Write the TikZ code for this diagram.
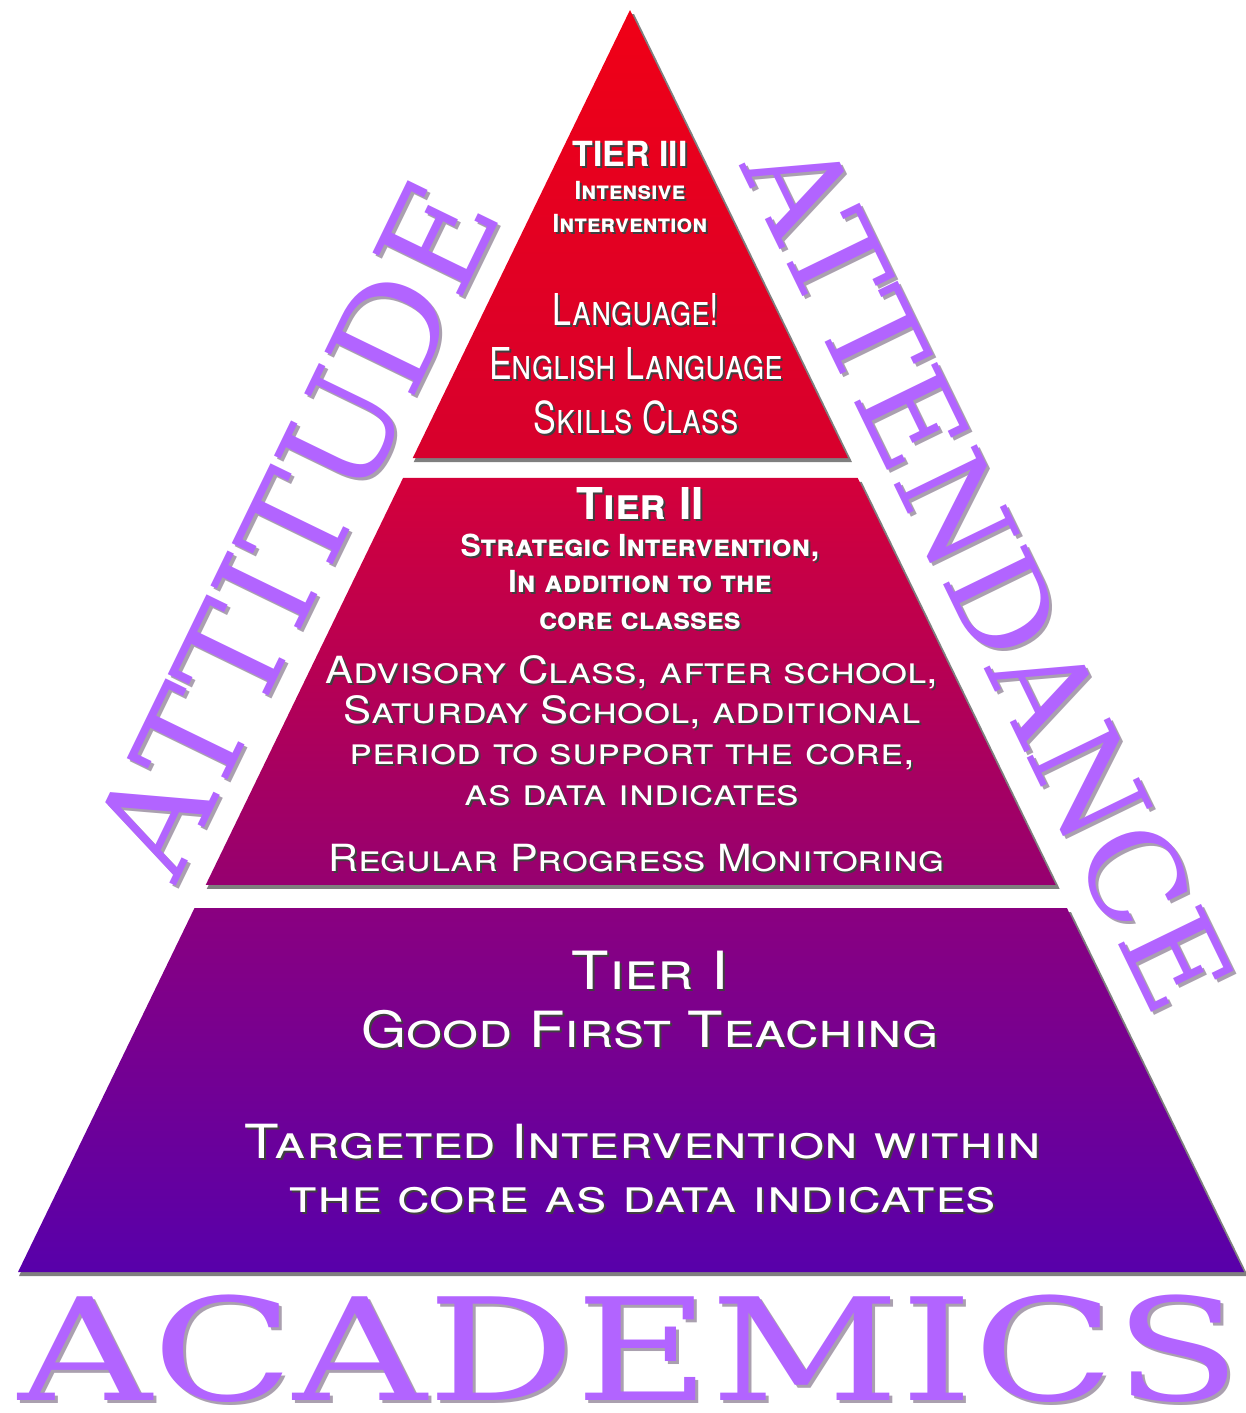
\documentclass[tikz,border=0pt]{standalone}
\usepackage{fontspec}
\usepackage{graphicx}
\usetikzlibrary{calc}
\newfontfamily\bigfont{DejaVu Serif}
\newfontfamily\tierfont{TeX Gyre Heros}
\definecolor{lilac}{RGB}{178,100,255}
\definecolor{lilacshade}{RGB}{170,160,175}
\definecolor{topthree}{RGB}{240,0,22}
\definecolor{botthree}{RGB}{215,0,45}
\definecolor{toptwo}{RGB}{212,0,58}
\definecolor{bottwo}{RGB}{150,0,112}
\definecolor{topone}{RGB}{138,0,128}
\definecolor{botone}{RGB}{88,0,170}
\newcommand{\tsize}[2]{\tierfont\fontsize{#1}{#2}\selectfont\scshape}
\newcommand{\block}[2]{\scalebox{#1}[1]{\begin{tabular}{@{}c@{}}#2\end{tabular}}}
\tikzset{
    tiershadow/.style={fill=black, opacity=.5},
    tiertext/.style={inner sep=0pt}
}
\tikzset{
    bigword/.style={inner sep=0pt}
}

\begin{document}
\begin{tikzpicture}[x=0.02cm, y=-0.02cm]
  \useasboundingbox (0,0) rectangle (1246,1413);
  \coordinate (apex) at (630,10);
  \coordinate (bl) at (18,1272);
  \coordinate (br) at (1244,1272);

  % tiers
  \foreach \a/\b/\n in {0/0.355/three, 0.3708/0.6933/two, 0.7116/1/one} {
    \fill[tiershadow] ($(apex)!\a!(bl)+(1,4)$) -- ($(apex)!\a!(br)+(4,4)$)
      -- ($(apex)!\b!(br)+(4,4)$) -- ($(apex)!\b!(bl)+(1,4)$) -- cycle;
    \shade[top color=top\n, bottom color=bot\n] ($(apex)!\a!(bl)$)
      -- ($(apex)!\a!(br)$) -- ($(apex)!\b!(br)$) -- ($(apex)!\b!(bl)$) -- cycle;
  }

  % tier texts, shadow first
  \foreach \d/\c/\s in {2/black!75/sh, 0/white/tx} {
    \node[tiertext, text=\c, font=\tsize{14.2}{18.7}\bfseries] (headthree\s) at (630+\d,192+\d)
      {\block{0.98}{{\fontsize{19.7}{21}\selectfont TIER III}\\Intensive\\Intervention}};
    \node[tiertext, text=\c, font=\tsize{25}{30.6}] (bodythree\s) at (636+\d,369+\d)
      {\block{0.775}{Language!\\English Language\\Skills Class}};
    \node[tiertext, text=\c, font=\tsize{17.3}{21}\bfseries] (headtwo\s) at (640+\d,564+\d)
      {\block{1}{{\fontsize{25}{25}\selectfont Tier II}\\Strategic Intervention,\\In addition to the\\core classes}};
    \node[tiertext, text=\c, font=\tsize{21.3}{23.2}] (bodytwo\s) at (632+\d,736+\d)
      {\block{1.12}{Advisory Class, after school,\\Saturday School, additional\\period to support the core,\\as data indicates}};
    \node[tiertext, text=\c, font=\tsize{21.3}{23.2}] (foottwo\s) at (636+\d,863+\d)
      {\block{1.11}{Regular Progress Monitoring}};
    \node[tiertext, text=\c, font=\tsize{28.4}{33}] (headone\s) at (650+\d,1007+\d)
      {\block{1.16}{{\fontsize{30}{30}\selectfont Tier I}\\Good First Teaching}};
    \node[tiertext, text=\c, font=\tsize{26.8}{30.6}] (bodyone\s) at (643+\d,1175+\d)
      {\block{1.2}{Targeted Intervention within\\the core as data indicates}};
  }

  % the three words round the pyramid
  \foreach \d/\c/\s in {3/lilacshade/sh, 0/lilac/tx} {
    \node[bigword, text=\c, rotate=64.1, font=\bigfont\fontsize{78}{78}\selectfont]
      (attitude\s) at (296+\d,528+\d) {ATTITUDE};
    \node[bigword, text=\c, rotate=-64.05, font=\bigfont\fontsize{72}{72}\selectfont]
      (attendance\s) at (989+\d,574+\d) {ATTENDANCE};
    \node[bigword, text=\c, font=\bigfont\fontsize{81}{81}\selectfont]
      (academics\s) at (630+\d,1349+\d) {\scalebox{1.3}[1]{ACADEMICS}};
  }
\end{tikzpicture}
\end{document}
